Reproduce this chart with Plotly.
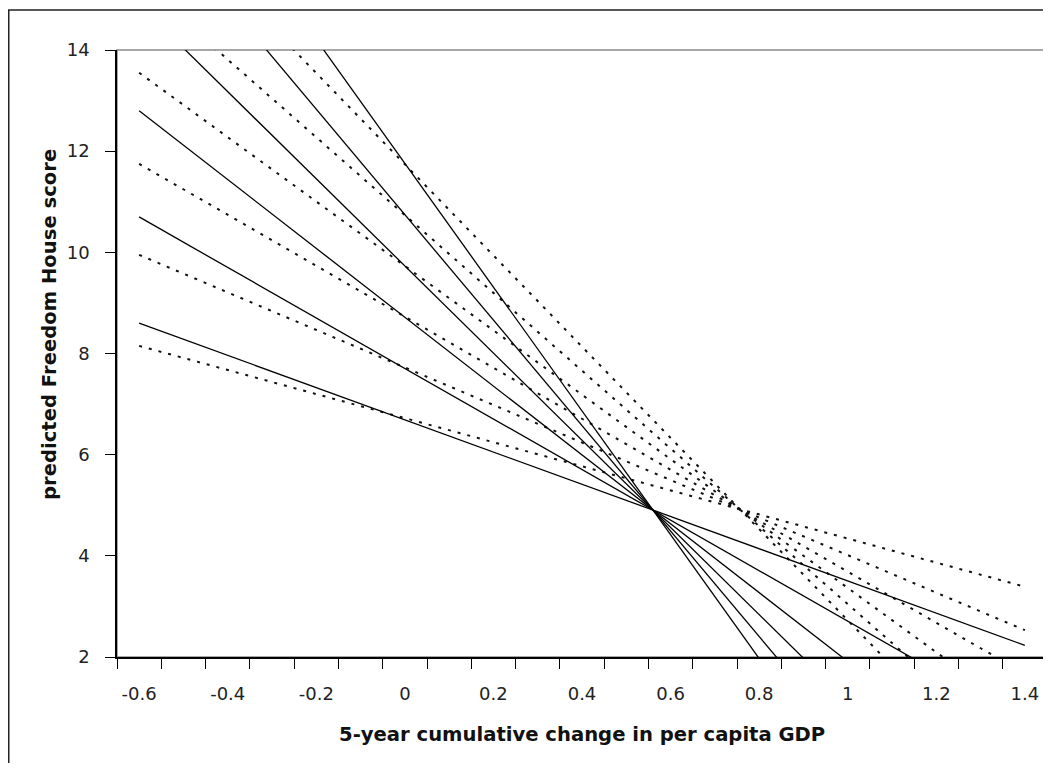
import plotly.graph_objects as go

# ---- data ----
x_ends = [-0.6, 1.4]
solid_start = [8.6, 10.7, 12.8, 14.9, 17.0, 19.1]
solid_end = [2.23, 0.71, -0.81, -2.33, -3.85, -5.37]
dotted_start = [8.15, 9.95, 11.75, 13.55, 15.35, 17.15]
dotted_end = [3.39, 2.53, 1.67, 0.82, -0.03, -0.88]
x_tick_vals = [-0.6, -0.4, -0.2, 0, 0.2, 0.4, 0.6, 0.8, 1.0, 1.2, 1.4]
x_tick_text = ["-0.6", "-0.4", "-0.2", "0", "0.2", "0.4", "0.6", "0.8", "1", "1.2", "1.4"]
y_tick_vals = [2, 4, 6, 8, 10, 12, 14]
x_title = "5-year cumulative change in per capita GDP"
y_title = "predicted Freedom House score"

fig = go.Figure()
for a, b in zip(dotted_start, dotted_end):
    fig.add_trace(go.Scatter(x=x_ends, y=[a, b], mode="lines",
                             line=dict(color="#111111", width=2, dash="3px,7px"),
                             showlegend=False, hoverinfo="skip"))
for a, b in zip(solid_start, solid_end):
    fig.add_trace(go.Scatter(x=x_ends, y=[a, b], mode="lines",
                             line=dict(color="#000000", width=1.3),
                             showlegend=False, hoverinfo="skip"))

tick_font = dict(family="DejaVu Sans", size=18, color="#222222")
title_font = dict(family="DejaVu Sans", size=19.6, color="#111111", weight="bold")

fig.update_layout(
    width=1043, height=755,
    margin=dict(l=109, r=4, t=42, b=106, pad=0),
    paper_bgcolor="white", plot_bgcolor="white",
    showlegend=False,
    xaxis=dict(range=[-0.65, 1.45], tickmode="array", tickvals=x_tick_vals,
               ticktext=x_tick_text, ticks="", ticklen=0, showgrid=False,
               zeroline=False, showline=True, linecolor="black", linewidth=1.5,
               tickfont=tick_font, ticklabelstandoff=20,
               minor=dict(tickmode="linear", tick0=-0.65, dtick=0.1, ticks="outside",
                          ticklen=10, tickwidth=1.3, tickcolor="black", showgrid=False)),
    yaxis=dict(range=[2, 14], tickmode="array", tickvals=y_tick_vals,
               ticks="outside", ticklen=10, tickwidth=1.3, tickcolor="black",
               showgrid=False, zeroline=False, showline=True, linecolor="black",
               linewidth=1.5, tickfont=tick_font, ticklabelstandoff=12),
    shapes=[
        dict(type="rect", xref="paper", yref="paper", x0=0, x1=1, y0=0, y1=1,
             line=dict(color="#8a8a8a", width=1.5), layer="below"),
        dict(type="rect", xref="paper", yref="paper", x0=-0.1164, x1=1.2,
             y0=-0.4, y1=1.0659, line=dict(color="#222222", width=1.5), layer="below"),
    ],
    annotations=[
        dict(text=x_title, xref="paper", yref="paper", x=0.5, y=0, xanchor="center",
             yanchor="top", yshift=-64, showarrow=False, font=title_font),
        dict(text=y_title, xref="paper", yref="paper", x=0, y=0.547, xanchor="center",
             yanchor="middle", xshift=-67, textangle=-90, showarrow=False, font=title_font),
    ],
)

fig.write_html("out.html")
